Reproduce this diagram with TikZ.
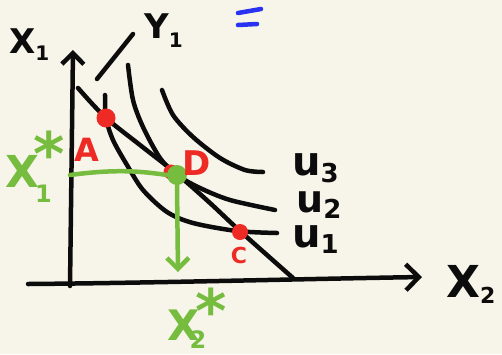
\documentclass[tikz,border=0pt]{standalone}
\usepackage{fontspec}
\setmainfont{DejaVu Sans}
\usetikzlibrary{arrows.meta}
\definecolor{bg}{RGB}{247,245,234}
\definecolor{ink}{RGB}{12,12,12}
\definecolor{mred}{RGB}{238,42,36}
\definecolor{mgreen}{RGB}{118,188,62}
\definecolor{mblue}{RGB}{40,50,240}
\newcommand\fsz[1]{\fontsize{#1}{#1}\selectfont}
\begin{document}
\begin{tikzpicture}[x=1pt,y=-1pt,
  pen/.style={line width=4.5pt, line cap=round, line join=round, draw=ink},
  gpen/.style={pen, draw=mgreen},
  bpen/.style={pen, draw=mblue},
  barb/.style={-{Straight Barb[length=11pt,width=22pt,line width=4.5pt]}},
  lbl/.style={inner sep=0pt, font=\bfseries},
  dot/.style={circle, inner sep=0pt, minimum size=#1},
]
\fill[bg] (0,0) rectangle (502,354);
\useasboundingbox (0,0) rectangle (502,354);

% axes
\coordinate (ybot) at (70,286);
\coordinate (ytop) at (73,50);
\coordinate (xleft) at (28,284);
\coordinate (xright) at (422,277);
\draw[pen, barb] (ybot) -- (ytop);
\draw[pen, -{Straight Barb[length=13pt,width=26pt,line width=4.5pt]}] (xleft) .. controls (150,283) and (300,279) .. (xright);

% budget line
\draw[pen] plot[smooth] coordinates {(78,88) (105,117) (140,145) (177,174) (210,203) (240,231) (293,278)};
\coordinate (y1a) at (97,79);
\coordinate (y1b) at (133,34);
\draw[pen] (y1a) -- (y1b);

% indifference curves
\draw[pen] plot[smooth] coordinates {(105,95) (106,118) (113,140) (127,165) (143,190) (167,212) (193,223) (237,231) (277,233)};
\draw[pen] plot[smooth] coordinates {(128,65) (133,100) (143,127) (160,158) (177,175) (200,188) (230,200) (275,210)};
\draw[pen] plot[smooth] coordinates {(162,90) (173,115) (193,137) (220,158) (245,170) (263,172)};

% points
\node[dot=19pt, fill=mred] (A) at (106,118) {};
\node[dot=16pt, fill=mred] (C) at (240,232) {};
\node[dot=15pt, fill=mred] (Dr) at (171,172) {};
\node[dot=20pt, fill=mgreen] (D) at (177,175) {};

% green guides
\coordinate (x1s) at (70,175);
\coordinate (x2s) at (178,272);
\draw[gpen] (x1s) .. controls (115,169) and (140,171) .. (D.west);
\draw[gpen, barb] (D.south) -- (x2s);

% blue equals
\coordinate (e1) at (238,13);
\coordinate (e2) at (261,9);
\coordinate (e3) at (238,25);
\coordinate (e4) at (257,24);
\draw[bpen] (e1) -- (e2);
\draw[bpen] (e3) -- (e4);

% labels
\node[lbl, anchor=base west, text=ink] (lx1) at (9,53) {\fsz{34}X\raisebox{-7pt}{\fsz{20}1}};
\node[lbl, anchor=base west, text=ink] (ly1) at (144,38) {\fsz{34}Y\raisebox{-9pt}{\fsz{20}1}};
\node[lbl, anchor=base west, text=ink] (lu3) at (292,175) {\fsz{40}u\raisebox{-7pt}{\fsz{26}3}};
\node[lbl, anchor=base west, text=ink] (lu2) at (296,212) {\fsz{38}u\raisebox{-6pt}{\fsz{26}2}};
\node[lbl, anchor=base west, text=ink] (lu1) at (292,247) {\fsz{40}u\raisebox{-6pt}{\fsz{26}1}};
\node[lbl, anchor=base west, text=ink] (lx2) at (446,297) {\fsz{44}X\raisebox{-6pt}{\fsz{22}2}};
\node[lbl, text=mred] (lA) at (87,150) {\fsz{32}A};
\node[lbl, text=mred] (lD) at (197,163) {\fsz{34}D};
\node[lbl, text=mred] (lC) at (239,255) {\fsz{22}C};
\node[lbl, anchor=base west, text=mgreen] (lx1s) at (5,187) {\fsz{44}X\hspace{-6pt}\rlap{\raisebox{12pt}{\fsz{60}*}}\hspace{2pt}\raisebox{-15pt}{\fsz{24}1}};
\node[lbl, anchor=base west, text=mgreen] (lx2s) at (167,340) {\fsz{42}X\hspace{-4pt}\rlap{\raisebox{8pt}{\fsz{60}*}}\hspace{-6pt}\raisebox{-8pt}{\fsz{24}2}};
\end{tikzpicture}
\end{document}
